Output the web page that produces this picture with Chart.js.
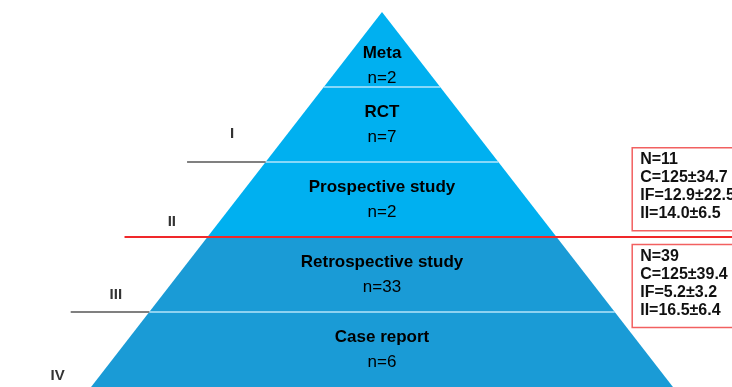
<!DOCTYPE html>
<html>
<head>
<meta charset="utf-8">
<script src="https://cdn.jsdelivr.net/npm/chart.js@4/dist/chart.umd.min.js"></script>
<style>
  html, body { margin: 0; padding: 0; background: #fff; }
  #wrap { position: relative; width: 732px; height: 387px; }
</style>
</head>
<body>
<div id="wrap"><canvas id="piramide"></canvas></div>
<script>
// Pirámide de evidencia (de arriba a abajo)
const studyTypes = ['Meta', 'RCT', 'Prospective study', 'Retrospective study', 'Case report']
const studyCounts = [2, 7, 2, 33, 6]
const layerColors = ['#00b0f0', '#00b0f0', '#00b0f0', '#1a9bd6', '#1a9bd6']

// Niveles de evidencia: frontera inferior de cada nivel (en capas desde abajo)
const levelNames = ['I', 'II', 'III', 'IV']
const levelBounds = [3, 2, 1, 0]

// Cajas de resumen
const boxHigh = ['N=11', 'C=125\u00b134.7', 'IF=12.9\u00b122.5', 'II=14.0\u00b16.5']
const boxLow = ['N=39', 'C=125\u00b139.4', 'IF=5.2\u00b13.2', 'II=16.5\u00b16.4']

const nLayers = studyTypes.length
const halfWidth = level => (nLayers - level) / nLayers
const tick = 0.27

const datasets = []

// capas (trapecios)
studyTypes.forEach((name, i) => {
    const bottom = nLayers - 1 - i
    const top = bottom + 1
    datasets.push({
        data: [
            {x: -halfWidth(bottom), y: bottom},
            {x: halfWidth(bottom), y: bottom},
            {x: halfWidth(top), y: top},
            {x: -halfWidth(top), y: top},
            {x: -halfWidth(bottom), y: bottom}
        ],
        showLine: true,
        fill: 'shape',
        backgroundColor: layerColors[i],
        borderWidth: 0,
        borderColor: 'rgba(0,0,0,0)',
        pointRadius: 0,
        tension: 0,
        order: 10
    })
})

// separadores claros
for (let lv = 1; lv < nLayers; lv++) {
    if (lv === 2) continue
    datasets.push({
        data: [{x: -halfWidth(lv), y: lv}, {x: halfWidth(lv), y: lv}],
        showLine: true,
        borderColor: 'rgba(190,232,252,0.95)',
        borderWidth: 1.5,
        pointRadius: 0,
        order: 1
    })
}

// lineas de nivel
levelBounds.forEach((lv, i) => {
    if (lv === 0) return
    const red = levelNames[i] === 'II'
    datasets.push({
        data: [
            {x: -halfWidth(lv) - (red ? 0.285 : tick), y: lv},
            {x: red ? 1.3 : -halfWidth(lv), y: lv}
        ],
        showLine: true,
        borderColor: red ? '#f0282a' : '#808080',
        borderWidth: 2,
        pointRadius: 0,
        order: 0
    })
})

const textPlugin = {
    id: 'textos',
    afterDatasetsDraw(chart) {
        const {ctx, scales: {x, y}} = chart
        ctx.save()
        ctx.textAlign = 'center'
        ctx.textBaseline = 'middle'
        ctx.fillStyle = '#000'
        studyTypes.forEach((name, i) => {
            const bottom = nLayers - 1 - i
            const offName = i === 0 ? 0.45 : 0.66
            const offN = i === 0 ? 0.12 : 0.33
            ctx.font = 'bold 17px "Liberation Sans", Arial, sans-serif'
            ctx.fillText(name, x.getPixelForValue(0), y.getPixelForValue(bottom + offName))
            ctx.font = '17px "Liberation Sans", Arial, sans-serif'
            ctx.fillText('n=' + studyCounts[i], x.getPixelForValue(0), y.getPixelForValue(bottom + offN))
        })

        // etiquetas de nivel
        const labelRise = [0.37, 0.2, 0.23, 0.15]
        ctx.fillStyle = '#333'
        ctx.font = 'bold 15px "Liberation Sans", Arial, sans-serif'
        levelBounds.forEach((lv, i) => {
            const ext = levelNames[i] === 'II' ? 0.285 : tick
            const cx = -halfWidth(lv) - ext / 2 + 0.02
            ctx.fillText(levelNames[i], x.getPixelForValue(cx), y.getPixelForValue(lv + labelRise[i]))
        })

        // cajas
        const drawBox = (lines, yTop) => {
            const left = x.getPixelForValue(0.86)
            const top = y.getPixelForValue(yTop)
            ctx.strokeStyle = '#f26060'
            ctx.lineWidth = 1.5
            ctx.strokeRect(left, top, 120, 83)
            ctx.fillStyle = '#111'
            ctx.textAlign = 'left'
            ctx.font = 'bold 16px "Liberation Sans", Arial, sans-serif'
            lines.forEach((t, k) => ctx.fillText(t, left + 8, top + 12 + k * 18))
        }
        drawBox(boxHigh, 3.19)
        drawBox(boxLow, 1.90)
        ctx.restore()
    }
}

new Chart(document.querySelector('#piramide'), {
    type: 'scatter',
    data: {datasets: datasets},
    options: {
        responsive: true,
        maintainAspectRatio: false,
        animation: false,
        layout: {padding: 0},
        plugins: {legend: {display: false}, tooltip: {enabled: false}},
        scales: {
            x: {display: false, min: -1.313, max: 1.203},
            y: {display: false, min: 0, max: 5.16}
        }
    },
    plugins: [textPlugin]
})
</script>
</body>
</html>
